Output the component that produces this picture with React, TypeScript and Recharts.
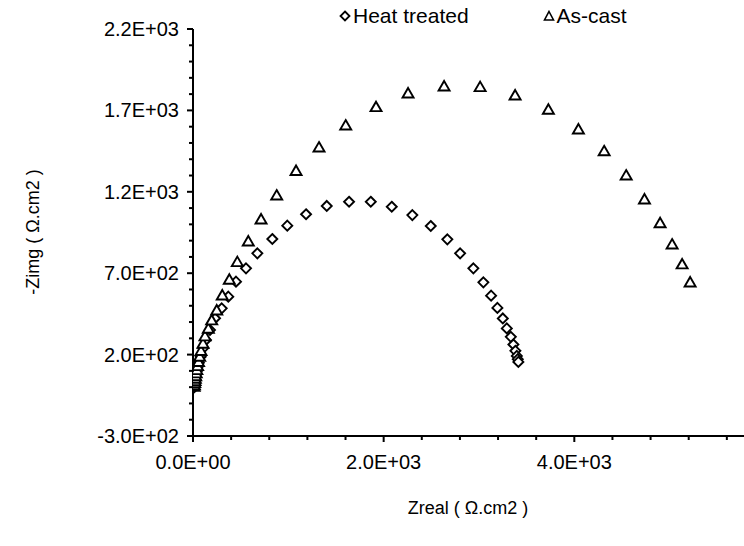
import { ScatterChart, Scatter, XAxis, YAxis } from 'recharts'

// Nyquist data, Zreal / -Zimg in ohm.cm2, high frequency first
const heatZreal = [14, 16, 18, 20, 22, 24, 26, 30, 36, 42, 50, 62, 81, 108, 136, 178, 231, 301, 370, 451, 556, 675, 832, 989, 1186, 1403, 1637, 1865, 2085, 2301, 2494, 2668, 2802, 2941, 3046, 3127, 3193, 3250, 3292, 3334, 3361, 3382, 3397, 3407, 3413]
const heatZimg = [0, 8, 16, 24, 32, 40, 48, 62, 80, 100, 125, 150, 187, 240, 290, 351, 423, 484, 556, 648, 730, 822, 910, 992, 1062, 1113, 1139, 1139, 1108, 1057, 990, 908, 822, 730, 644, 562, 487, 422, 361, 309, 262, 223, 192, 172, 155]

const castZreal = [12, 15, 18, 21, 24, 28, 33, 40, 48, 58, 70, 84, 105, 126, 161, 196, 249, 307, 381, 465, 580, 714, 878, 1081, 1322, 1602, 1920, 2256, 2634, 3012, 3379, 3728, 4043, 4313, 4544, 4736, 4900, 5026, 5131, 5215]
const castZimg = [5, 15, 28, 40, 55, 70, 88, 108, 132, 158, 190, 225, 270, 315, 362, 413, 474, 566, 663, 771, 898, 1033, 1180, 1331, 1475, 1610, 1723, 1807, 1850, 1846, 1795, 1707, 1586, 1452, 1303, 1156, 1010, 879, 757, 646]

const xTicks = [0, 400, 800, 1200, 1600, 2000, 2400, 2800, 3200, 3600, 4000, 4400, 4800, 5200, 5600]
const xMajor = [0, 2000, 4000]
const yTicks = [-300, -200, -100, 0, 100, 200, 300, 400, 500, 600, 700, 800, 900, 1000, 1100, 1200, 1300, 1400, 1500, 1600, 1700, 1800, 1900, 2000, 2100, 2200]
const yMajor = [-300, 200, 700, 1200, 1700, 2200]

const heatData = heatZreal.map((x, i) => ({ x, y: heatZimg[i] }))
const castData = castZreal.map((x, i) => ({ x, y: castZimg[i] }))

const FONT = '"Liberation Sans", Arial, sans-serif'
const TICK_FS = 20
const TITLE_FS = 18

// Excel style scientific notation, e.g. 2.2E+03
function sci(v: number) {
  const [m, e] = v.toExponential(1).split('e')
  return `${m}E${e[0]}${e.slice(1).padStart(2, '0')}`
}

function XTick({ x, y, payload }: any) {
  const major = xMajor.includes(payload.value)
  return (
    <g>
      <line x1={x} x2={x} y1={y} y2={y + (major ? 6 : 4)} stroke="#000" strokeWidth={2} />
      {major && (
        <text x={x} y={y + 33} textAnchor="middle" fontSize={TICK_FS} fontFamily={FONT} fill="#000">
          {sci(payload.value)}
        </text>
      )}
    </g>
  )
}

function YTick({ x, y, payload }: any) {
  const major = yMajor.includes(payload.value)
  return (
    <g>
      <line x1={x - (major ? 6 : 4)} x2={x} y1={y} y2={y} stroke="#000" strokeWidth={2} />
      {major && (
        <text x={x - 14} y={y} dy="0.35em" textAnchor="end" fontSize={TICK_FS} fontFamily={FONT} fill="#000">
          {sci(payload.value)}
        </text>
      )}
    </g>
  )
}

const Diamond = ({ cx, cy }: any) => (
  <path d={`M${cx},${cy - 5} L${cx + 5},${cy} L${cx},${cy + 5} L${cx - 5},${cy} Z`} fill="#fff" stroke="#000" strokeWidth={1.9} />
)

const Triangle = ({ cx, cy }: any) => (
  <path d={`M${cx},${cy - 5} L${cx + 5.5},${cy + 4.5} L${cx - 5.5},${cy + 4.5} Z`} fill="#fff" stroke="#000" strokeWidth={1.9} />
)

function LegendItem({ icon, label }: { icon: 'diamond' | 'triangle'; label: string }) {
  return (
    <span style={{ display: 'inline-flex', alignItems: 'center' }}>
      <svg width={12} height={12} style={{ marginRight: 2 }}>
        {icon === 'diamond' ? (
          <path d="M6,1.5 L10.5,6 L6,10.5 L1.5,6 Z" fill="#fff" stroke="#000" strokeWidth={1.8} />
        ) : (
          <path d="M6,1.5 L10.5,10 L1.5,10 Z" fill="#fff" stroke="#000" strokeWidth={1.6} />
        )}
      </svg>
      {label}
    </span>
  )
}

export default function App() {
  return (
    <div style={{ position: 'absolute', left: 0, top: 0, width: 744, height: 546, background: '#fff', overflow: 'hidden' }}>
      <ScatterChart width={744} height={546} margin={{ top: 29, right: 0, bottom: 0, left: 0 }}>
        <XAxis
          type="number"
          dataKey="x"
          domain={[0, 5780]}
          ticks={xTicks}
          interval={0}
          allowDataOverflow
          height={110}
          axisLine={{ stroke: '#000', strokeWidth: 2 }}
          tickLine={false}
          tickSize={0}
          tickMargin={0}
          tick={<XTick />}
          label={{
            content: () => (
              <text x={468} y={508} dy="0.35em" textAnchor="middle" fontSize={TITLE_FS} fontFamily={FONT} fill="#000">
                Zreal ( Ω.cm2 )
              </text>
            ),
          }}
        />
        <YAxis
          type="number"
          dataKey="y"
          domain={[-300, 2200]}
          ticks={yTicks}
          interval={0}
          width={193}
          axisLine={{ stroke: '#000', strokeWidth: 2 }}
          tickLine={false}
          tickSize={0}
          tickMargin={0}
          tick={<YTick />}
          label={{
            content: () => (
              <text transform="translate(33,232) rotate(-90)" dy="0.35em" textAnchor="middle" fontSize={TITLE_FS} fontFamily={FONT} fill="#000">
                -Zimg ( Ω.cm2 )
              </text>
            ),
          }}
        />
        <Scatter name="Heat treated" data={heatData} shape={Diamond} isAnimationActive={false} />
        <Scatter name="As-cast" data={castData} shape={Triangle} isAnimationActive={false} />
      </ScatterChart>
      <div style={{ position: 'absolute', top: 5, left: 339, fontFamily: FONT, fontSize: 21, color: '#000', display: 'flex', lineHeight: '22px' }}>
        <LegendItem icon="diamond" label="Heat treated" />
        <span style={{ width: 74 }} />
        <LegendItem icon="triangle" label="As-cast" />
      </div>
    </div>
  )
}
